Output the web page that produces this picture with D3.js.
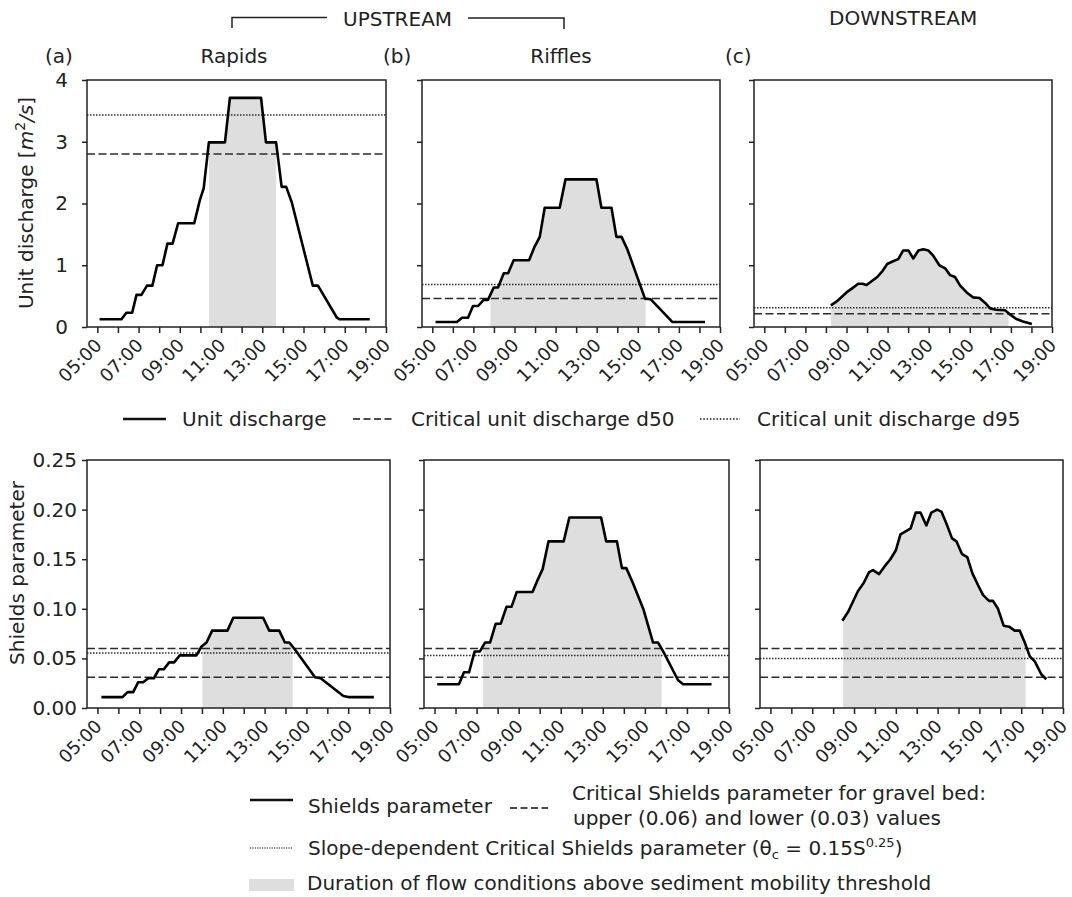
<!DOCTYPE html>
<html><head><meta charset="utf-8">
<script src="https://cdn.jsdelivr.net/npm/d3@7"></script>
<style>
body{margin:0;background:#fff;}
svg{font-family:"DejaVu Sans",Verdana,sans-serif;}
</style></head>
<body>
<svg id="chart" width="1072" height="897"></svg>
<script>
// ---------- DATA ----------
const hourTicks = [5,6,7,8,9,10,11,12,13,14,15,16,17,18,19];
const hourLabels = ["05:00","07:00","09:00","11:00","13:00","15:00","17:00","19:00"];
const labelHours = [5,7,9,11,13,15,17,19];
const qTicks = [0,1,2,3,4];
const shieldsTicks = [0,0.05,0.10,0.15,0.20,0.25];
const shieldsTickLabels = ["0.00","0.05","0.10","0.15","0.20","0.25"];

// Unit discharge (time in decimal hours, value m2/s)
const qRapidsT = [5.11,6.17,6.41,6.69,6.90,7.14,7.41,7.67,7.90,8.16,8.40,8.65,8.92,9.70,9.97,10.16,10.41,11.19,11.43,12.94,13.18,13.67,13.94,14.16,14.43,15.45,15.70,16.62,16.75,18.21];
const qRapidsV = [0.125,0.125,0.23,0.23,0.52,0.52,0.67,0.67,1.00,1.00,1.35,1.35,1.68,1.68,2.05,2.25,2.99,2.99,3.71,3.71,2.99,2.99,2.27,2.27,2.02,0.67,0.67,0.15,0.125,0.125];
const qRifflesT = [5.16,6.20,6.45,6.74,6.98,7.23,7.50,7.71,7.99,8.20,8.48,8.69,8.96,9.71,9.95,10.23,10.47,11.20,11.48,12.99,13.23,13.72,13.96,14.21,14.49,15.35,15.62,16.69,18.27];
const qRifflesV = [0.08,0.08,0.15,0.15,0.34,0.34,0.44,0.44,0.64,0.64,0.87,0.87,1.08,1.08,1.28,1.46,1.93,1.93,2.39,2.39,1.93,1.93,1.46,1.46,1.26,0.46,0.45,0.08,0.08];
const qDownT = [8.24,8.51,9.00,9.29,9.57,9.78,9.98,10.22,10.50,10.76,10.98,11.24,11.52,11.76,12.01,12.25,12.50,12.74,12.98,13.23,13.52,13.80,14.04,14.28,14.53,14.85,15.15,15.47,15.75,15.99,16.28,16.72,16.97,17.26,17.59,18.02];
const qDownV = [0.35,0.41,0.56,0.63,0.70,0.70,0.68,0.74,0.81,0.91,1.02,1.06,1.10,1.24,1.24,1.11,1.24,1.26,1.24,1.15,1.00,0.95,0.84,0.81,0.67,0.56,0.48,0.47,0.39,0.30,0.28,0.27,0.20,0.13,0.09,0.05];

// Shields parameter
const sRapidsT = [5.19,6.20,6.44,6.71,6.95,7.19,7.43,7.70,7.94,8.18,8.43,8.67,8.94,9.74,9.98,10.22,10.49,11.22,11.50,12.93,13.22,13.70,13.97,14.18,14.45,15.41,15.68,16.77,17.01,18.23];
const sRapidsV = [0.011,0.011,0.016,0.016,0.026,0.026,0.030,0.030,0.039,0.039,0.046,0.046,0.053,0.053,0.062,0.066,0.078,0.078,0.091,0.091,0.078,0.078,0.066,0.066,0.059,0.031,0.030,0.012,0.011,0.011];
const sRifflesT = [5.13,6.16,6.40,6.64,6.91,7.16,7.40,7.64,7.91,8.15,8.42,8.66,8.91,9.66,9.90,10.14,10.42,11.14,11.41,12.92,13.16,13.67,13.91,14.12,14.43,14.94,15.39,15.63,15.87,16.58,16.82,18.17];
const sRifflesV = [0.024,0.024,0.036,0.036,0.057,0.057,0.066,0.066,0.085,0.085,0.102,0.102,0.117,0.117,0.129,0.140,0.168,0.168,0.192,0.192,0.168,0.168,0.141,0.141,0.126,0.099,0.066,0.066,0.057,0.028,0.024,0.024];
const sDownT = [8.44,8.72,9.19,9.46,9.72,9.91,10.20,10.47,10.74,11.00,11.22,11.47,11.71,11.95,12.18,12.46,12.70,12.97,13.18,13.42,13.69,13.90,14.17,14.42,14.66,14.93,15.17,15.46,15.65,15.89,16.16,16.42,16.69,16.93,17.17,17.41,17.65,17.96,18.20];
const sDownV = [0.088,0.097,0.118,0.126,0.137,0.139,0.135,0.143,0.150,0.159,0.175,0.178,0.181,0.197,0.197,0.184,0.197,0.200,0.198,0.186,0.171,0.168,0.155,0.152,0.136,0.124,0.114,0.108,0.108,0.100,0.083,0.082,0.078,0.078,0.066,0.052,0.047,0.034,0.029];

// Thresholds: [rapids, riffles, downstream]
const qD50 = [2.80,0.46,0.215];
const qD95 = [3.435,0.69,0.31];
const shieldsUpper = [0.06,0.06,0.06];
const shieldsLower = [0.031,0.031,0.031];
const shieldsSlope = [0.0555,0.053,0.050];

// Shaded durations (start, end hours)
const qShadeStart = [10.41,7.83,8.24];
const qShadeEnd = [13.67,15.38,16.89];
const sShadeStart = [10.03,7.31,8.48];
const sShadeEnd = [14.34,15.79,17.21];

const panelLetters = ["(a)","(b)","(c)"];
const panelTitles = ["Rapids","Riffles",""];

// ---------- DRAW ----------
const svg = d3.select("#chart");
const FS = 20;
const shadeColor = "#dedede";
const refColor = "#2b2b2b";

const topBoxes = [[87,386],[422,720],[754,1052]];
const botBoxes = [[87,390],[424,729],[760,1063]];
const topY = [80,327];
const botY = [460,708];

const qSeries = [[qRapidsT,qRapidsV],[qRifflesT,qRifflesV],[qDownT,qDownV]];
const sSeries = [[sRapidsT,sRapidsV],[sRifflesT,sRifflesV],[sDownT,sDownV]];

function interp(T,V,t){
  if(t<=T[0]) return V[0];
  if(t>=T[T.length-1]) return V[V.length-1];
  for(let i=1;i<T.length;i++){
    if(t<=T[i]){const f=(t-T[i-1])/(T[i]-T[i-1]);return V[i-1]+f*(V[i]-V[i-1]);}
  }
}

function panel(box, yr, yDomain, series, shade, refs, yTicks, yLabels, showYLabels, tickPad){
  const x = d3.scaleLinear().domain([4.5,19]).range(box);
  const y = d3.scaleLinear().domain(yDomain).range([yr[1],yr[0]]);
  const g = svg.append("g");
  const [T,V] = series;
  // shading
  const t0 = Math.max(shade[0],T[0]), t1 = Math.min(shade[1],T[T.length-1]);
  const pts = [[t0,interp(T,V,t0)]];
  T.forEach((t,i)=>{ if(t>t0 && t<t1) pts.push([t,V[i]]); });
  pts.push([t1,interp(T,V,t1)]);
  g.append("path").datum(pts)
    .attr("d", d3.area().x(d=>x(d[0])).y0(y(0)).y1(d=>y(d[1])))
    .attr("fill", shadeColor);
  // reference lines
  refs.forEach(r=>{
    g.append("line").attr("x1",box[0]).attr("x2",box[1])
      .attr("y1",y(r.v)).attr("y2",y(r.v))
      .attr("stroke",refColor).attr("stroke-width",1.5)
      .attr("stroke-dasharray", r.dash);
  });
  // data line
  g.append("path").datum(T.map((t,i)=>[t,V[i]]))
    .attr("d", d3.line().x(d=>x(d[0])).y(d=>y(d[1])))
    .attr("fill","none").attr("stroke","#000").attr("stroke-width",2.6)
    .attr("stroke-linejoin","round");
  // frame
  g.append("rect").attr("x",box[0]).attr("y",yr[0])
    .attr("width",box[1]-box[0]).attr("height",yr[1]-yr[0])
    .attr("fill","none").attr("stroke","#222").attr("stroke-width",1.5);
  // x axis
  const xa = g.append("g").attr("transform",`translate(0,${yr[1]})`)
    .call(d3.axisBottom(x).tickValues(hourTicks).tickSize(6).tickFormat(""));
  xa.select(".domain").remove();
  xa.selectAll(".tick line").attr("stroke","#222").attr("stroke-width",1.5);
  labelHours.forEach((h,i)=>{
    g.append("text").attr("text-anchor","end")
      .attr("transform",`translate(${x(h)+1},${yr[1]+15}) rotate(-45)`)
      .attr("font-size",18).attr("fill","#222")
      .attr("dy","0.35em")
      .text(hourLabels[i]);
  });
  // y axis
  const ya = g.append("g").attr("transform",`translate(${box[0]},0)`)
    .call(d3.axisLeft(y).tickValues(yTicks).tickSize(5).tickPadding(tickPad)
      .tickFormat((d,i)=>showYLabels? yLabels[i] : ""));
  ya.select(".domain").remove();
  ya.selectAll(".tick line").attr("stroke","#222").attr("stroke-width",1.5);
  ya.selectAll(".tick text").attr("font-size",FS).attr("fill","#222")
    .attr("font-family","DejaVu Sans");
}

const dashStyle = "8,3.5";
const dotStyle = "1.5,1.5";
for(let i=0;i<3;i++){
  panel(topBoxes[i], topY, [0,4], qSeries[i], [qShadeStart[i],qShadeEnd[i]],
    [{v:qD50[i],dash:dashStyle},{v:qD95[i],dash:dotStyle}],
    qTicks, qTicks.map(String), i===0, 14);
  panel(botBoxes[i], botY, [0,0.25], sSeries[i], [sShadeStart[i],sShadeEnd[i]],
    [{v:shieldsUpper[i],dash:dashStyle},{v:shieldsLower[i],dash:dashStyle},{v:shieldsSlope[i],dash:dotStyle}],
    shieldsTicks, shieldsTickLabels, i===0, 5);
}

// headers
const letterX = [45,383,725];
const titleX = [234,561,0];
panelLetters.forEach((l,i)=>{
  svg.append("text").attr("x",letterX[i]).attr("y",63).attr("font-size",FS).attr("fill","#222").text(l);
  if(panelTitles[i]) svg.append("text").attr("x",titleX[i]).attr("y",63).attr("text-anchor","middle")
     .attr("font-size",FS).attr("fill","#222").text(panelTitles[i]);
});
svg.append("text").attr("x",343).attr("y",26).attr("font-size",FS).attr("fill","#222").text("UPSTREAM");
svg.append("text").attr("x",829).attr("y",25).attr("font-size",FS).attr("fill","#222").text("DOWNSTREAM");
svg.append("path").attr("d","M232,28V17.5H327M468,18H564V29").attr("fill","none").attr("stroke","#222").attr("stroke-width",1.5);

// y labels
const yl1 = svg.append("text").attr("transform","translate(33,203) rotate(-90)")
  .attr("text-anchor","middle").attr("font-size",FS).attr("fill","#222");
yl1.append("tspan").text("Unit discharge [");
yl1.append("tspan").attr("font-style","italic").text("m");
yl1.append("tspan").attr("font-size",14).attr("dy",-8).text("2");
yl1.append("tspan").attr("dy",8).attr("font-style","italic").text("/s");
yl1.append("tspan").text("]");
svg.append("text").attr("transform","translate(24,573) rotate(-90)")
  .attr("text-anchor","middle").attr("font-size",FS).attr("fill","#222").text("Shields parameter");

// top legend
function lgLine(x1,x2,yy,dash,w){
  svg.append("line").attr("x1",x1).attr("x2",x2).attr("y1",yy).attr("y2",yy)
   .attr("stroke","#111").attr("stroke-width",w).attr("stroke-dasharray",dash);
}
function lgText(xx,yy,t){
  return svg.append("text").attr("x",xx).attr("y",yy).attr("font-size",FS).attr("fill","#222").text(t);
}
lgLine(123,166,419,null,2.6); lgText(182,426,"Unit discharge");
lgLine(353,393,419,"7,3.5",1.6); lgText(411,426,"Critical unit discharge d50");
lgLine(700,740,419,"1.5,1.8",1.6); lgText(757,426,"Critical unit discharge d95");

// bottom legend
lgLine(250,293,800,null,2.6); lgText(308,813,"Shields parameter");
lgLine(510,548,808,"7,3.5",1.6);
lgText(572,800,"Critical Shields parameter for gravel bed:");
lgText(573,825,"upper (0.06) and lower (0.03) values");
lgLine(250,293,848,"1.2,1.2",1.2);
const sl = lgText(308,855,"Slope-dependent Critical Shields parameter (θ");
sl.append("tspan").attr("font-size",13).attr("dy",4).text("c");
sl.append("tspan").attr("dy",-4).text(" = 0.15S");
sl.append("tspan").attr("font-size",13).attr("dy",-8).text("0.25");
sl.append("tspan").attr("dy",8).text(")");
svg.append("rect").attr("x",249).attr("y",879).attr("width",45).attr("height",12).attr("fill",shadeColor);
lgText(307,890,"Duration of flow conditions above sediment mobility threshold");
</script>
</body></html>
